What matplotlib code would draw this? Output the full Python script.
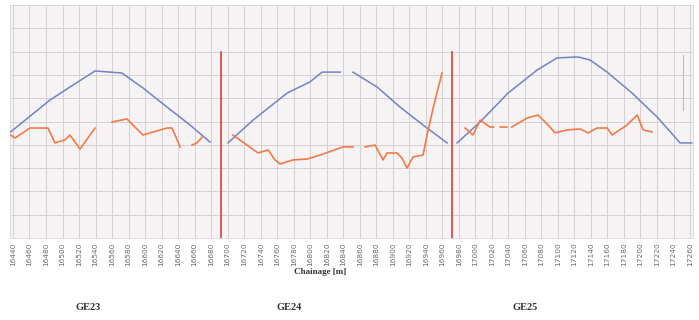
import matplotlib.pyplot as plt
import numpy as np

# chainage station index along x (one tick per station), level along y (grid units)
blue_x = [-0.15, 2.24, 3.45, 4.97, 6.60, 7.87, 9.33, 10.72, 11.93, np.nan,
          13.02, 14.54, 16.60, 17.99, 18.72, 19.81, np.nan,
          20.59, 22.05, 23.44, 24.83, 26.29, np.nan,
          26.89, 28.29, 29.98, 31.74, 32.95, 34.22, 34.95, 35.98, 37.49,
          39.01, 40.40, 41.10]
blue_y = [4.55, 5.92, 6.48, 7.17, 7.08, 6.44, 5.62, 4.85, 4.12, np.nan,
          4.08, 5.06, 6.22, 6.70, 7.12, 7.12, np.nan,
          7.12, 6.48, 5.62, 4.85, 4.08, np.nan,
          4.08, 4.98, 6.22, 7.21, 7.73, 7.77, 7.64, 7.12, 6.22,
          5.19, 4.08, 4.08]

orange_x = [-0.15, 0.12, 1.03, 2.12, 2.54, 3.15, 3.45, 4.06, 4.97, np.nan,
            6.00, 6.90, 7.87, 9.33, 9.63, 10.12, np.nan,
            10.84, 11.14, 11.45, np.nan,
            13.32, 14.17, 14.84, 15.45, 15.87, 16.17, 16.96, 17.81, 18.59,
            19.99, 20.59, np.nan,
            21.32, 21.93, 22.41, 22.65, 23.26, 23.56, 23.86, 24.23, 24.83,
            25.14, 25.56, 25.98, np.nan,
            27.38, 27.86, 28.29, 28.89, 29.10, np.nan, 29.50, 29.90, np.nan,
            30.20, 31.13, 31.80, 32.40, 32.83, 33.55, 34.34, 34.83, 35.37,
            35.98, 36.28, 37.19, 37.80, 38.16, 38.70]
orange_y = [4.42, 4.29, 4.72, 4.72, 4.08, 4.21, 4.42, 3.82, 4.72, np.nan,
            4.98, 5.11, 4.42, 4.72, 4.72, 3.91, np.nan,
            3.99, 4.08, 4.33, np.nan,
            4.42, 3.99, 3.65, 3.78, 3.35, 3.18, 3.35, 3.39, 3.56,
            3.91, 3.91, np.nan,
            3.91, 3.99, 3.35, 3.65, 3.65, 3.43, 3.00, 3.48, 3.56,
            4.64, 5.92, 7.08, np.nan,
            4.72, 4.42, 5.06, 4.76, 4.76, np.nan, 4.76, 4.76, np.nan,
            4.76, 5.15, 5.28, 4.85, 4.51, 4.64, 4.68, 4.51, 4.72,
            4.72, 4.42, 4.85, 5.28, 4.64, 4.55]

# section boundaries (station index, top level)
boundary_x = [12.60, 26.59]
boundary_top = [7.98, 7.98]

tick_labels = [
    "16440", "16460", "16480", "16500", "16520", "16540", "16560",
    "16580", "16600", "16620", "16640", "16660", "16680",
    "16700", "16720", "16740", "16760", "16780", "16800", "16820",
    "16840", "16860", "16880", "16900", "16920", "16940", "16960",
    "16980", "17000", "17020", "17040", "17060", "17080", "17100",
    "17120", "17140", "17160", "17180", "17200", "17220", "17240", "17260",
]

sections = ["GE23", "GE24", "GE25"]
section_label_x = [4.55, 16.75, 31.0]

fig = plt.figure(figsize=(6.99, 3.2), dpi=100)
ax = fig.add_axes([10 / 699, 82 / 320, 683 / 699, 233 / 320])
ax.set_facecolor("#f5f3f3")

ax.plot(blue_x, blue_y, color="#7382c4", lw=1.1, zorder=3)
ax.plot(orange_x, orange_y, color="#f27a48", lw=1.2, zorder=3)
for bx, top in zip(boundary_x, boundary_top):
    ax.plot([bx, bx], [0, top], color="#d9413b", lw=1.2, zorder=4)
ax.plot([40.58, 40.58], [5.49, 7.85], color="#e8a8a8", lw=0.8, zorder=2)

ax.set_xlim(-0.18, 41.18)
ax.set_ylim(0, 10)
ax.set_xticks(range(len(tick_labels)), tick_labels, rotation=90)
ax.set_yticks(range(11))
ax.tick_params(axis="x", length=0, pad=3, labelsize=5.3, labelcolor="#6a6a6a")
ax.tick_params(axis="y", length=0, labelleft=False)
ax.grid(True, color="#d8cfcf", lw=0.7, zorder=1)
for s in ax.spines.values():
    s.set_color("#dcd6d6")
    s.set_linewidth(0.6)

serif = ["Liberation Serif", "DejaVu Serif"]
fig.text(320 / 699, 1 - 272 / 320, "Chainage [m]", ha="center", va="center",
         fontsize=6.5, fontweight="bold", family=serif, color="#333333")
for name, sx in zip(sections, section_label_x):
    px = 10 + (sx + 0.18) / 41.36 * 683
    fig.text(px / 699, 1 - 308 / 320, name, ha="center", va="center",
             fontsize=7.5, fontweight="bold", family=serif, color="#333333")

fig.savefig("out.png", dpi=100)
